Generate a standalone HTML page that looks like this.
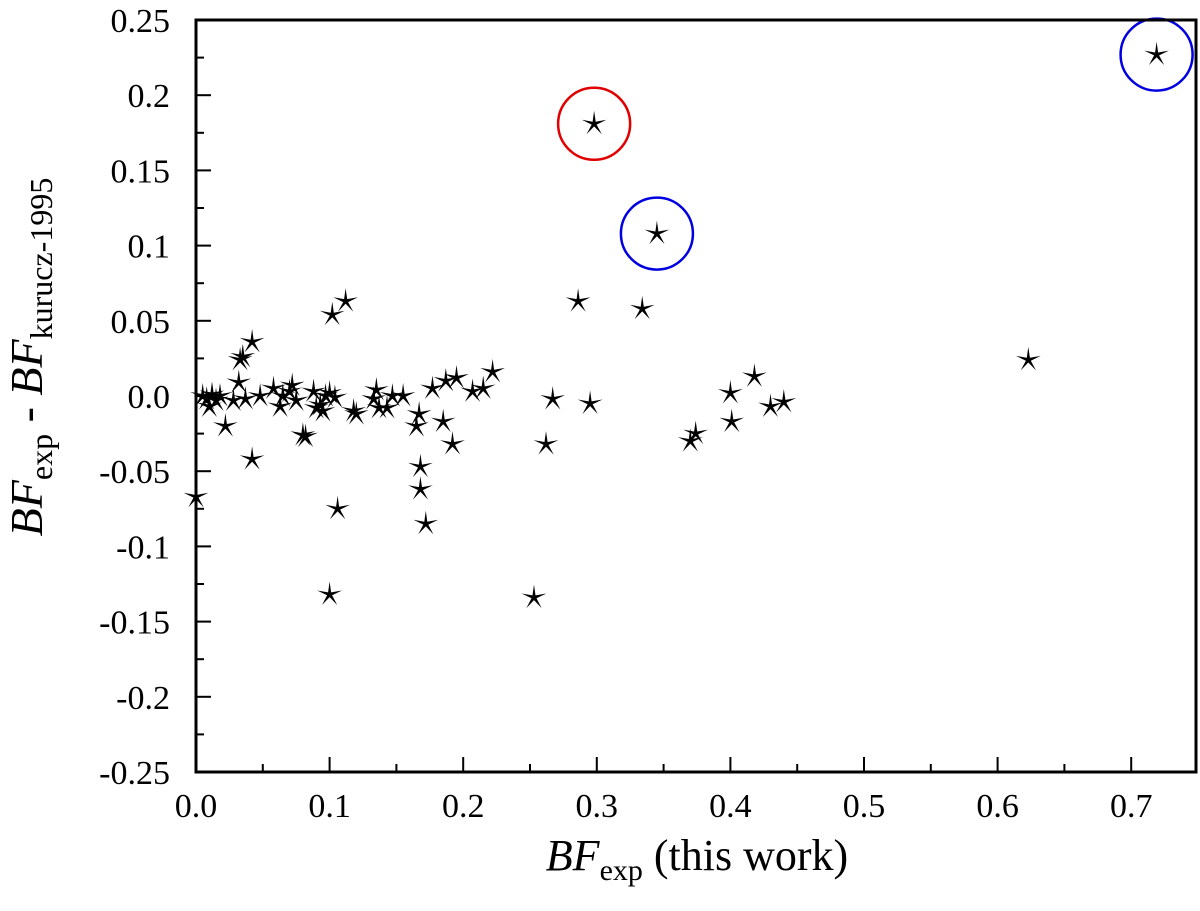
<!DOCTYPE html>
<html><head><meta charset="utf-8"><style>
body{margin:0;background:#fff}
svg{display:block;font-family:"Liberation Serif",serif}
</style></head><body>
<svg width="1200" height="911" viewBox="0 0 1200 911">
<g id="ticks"></g>
<g id="marks"></g>
<rect x="196" y="20" width="1000" height="752" fill="none" stroke="#000" stroke-width="3"/>
<text x="42" y="357" transform="rotate(-90 42 357)" text-anchor="middle" font-size="46"><tspan font-style="italic">BF</tspan><tspan font-size="32" dy="10">exp</tspan><tspan dy="-10"> - </tspan><tspan font-style="italic">BF</tspan><tspan font-size="32" dy="10">kurucz-1995</tspan></text>
<text x="697" y="870" text-anchor="middle" font-size="44"><tspan font-style="italic">BF</tspan><tspan font-size="30" dy="10">exp</tspan><tspan dy="-10"> (this work)</tspan></text>
</svg>
<script>
const xTicks=[0,0.1,0.2,0.3,0.4,0.5,0.6,0.7];
const xTickLabels=["0.0","0.1","0.2","0.3","0.4","0.5","0.6","0.7"];
const yTicks=[0.25,0.2,0.15,0.1,0.05,0,-0.05,-0.1,-0.15,-0.2,-0.25];
const yTickLabels=["0.25","0.2","0.15","0.1","0.05","0.0","-0.05","-0.1","-0.15","-0.2","-0.25"];
const xVals=[0.0,0.005,0.008,0.01,0.012,0.015,0.018,0.022,0.028,0.032,0.033,0.035,0.037,0.042,0.042,0.048,0.058,0.063,0.065,0.07,0.072,0.075,0.08,0.082,0.088,0.09,0.093,0.095,0.097,0.1,0.1,0.102,0.104,0.106,0.112,0.118,0.12,0.133,0.135,0.137,0.143,0.147,0.155,0.165,0.167,0.168,0.168,0.172,0.177,0.185,0.187,0.192,0.195,0.207,0.215,0.222,0.253,0.262,0.267,0.286,0.295,0.298,0.334,0.345,0.37,0.374,0.4,0.401,0.418,0.43,0.44,0.623,0.719];
const yVals=[-0.067,0.0,-0.002,-0.007,0.001,-0.003,0.0,-0.02,-0.003,0.009,0.024,0.026,-0.002,0.036,-0.042,0.0,0.005,-0.007,0.0,0.003,0.007,-0.003,-0.026,-0.027,0.003,-0.008,-0.006,-0.01,0.0,0.002,-0.132,0.054,-0.001,-0.075,0.063,-0.01,-0.012,-0.002,0.004,-0.008,-0.008,0.0,0.0,-0.02,-0.012,-0.047,-0.062,-0.085,0.005,-0.017,0.01,-0.032,0.012,0.003,0.005,0.016,-0.134,-0.032,-0.002,0.063,-0.005,0.181,0.058,0.108,-0.03,-0.025,0.002,-0.017,0.013,-0.007,-0.004,0.024,0.227];
const circX=[0.298,0.345,0.719];
const circY=[0.181,0.108,0.227];
const circColors=["#e00000","#0000e0","#0000e0"];
const NS="http://www.w3.org/2000/svg";
const X=v=>196+v*1336, Y=v=>396-v*1504;
const tg=document.getElementById('ticks'), mg=document.getElementById('marks');
function mk(tag,a,p){const e=document.createElementNS(NS,tag);for(const k in a)e.setAttribute(k,a[k]);p.appendChild(e);return e;}
xTicks.forEach((v,i)=>{
 const x=X(v);
 const t=mk('line',{x1:x,x2:x,y1:772,y2:757,stroke:'#000','stroke-width':2},tg);
 
 
 const m=X(v+0.05);
 if(m<1196){mk('line',{x1:m,x2:m,y1:772,y2:764,stroke:'#000','stroke-width':2},tg);}
 const l=mk('text',{x:x,y:817,'text-anchor':'middle','font-size':34},tg);
 l.textContent=xTickLabels[i];
 
 
});
yTicks.forEach((v,i)=>{
 const y=Y(v);
 mk('line',{x1:196,x2:211,y1:y,y2:y,stroke:'#000','stroke-width':2},tg);
 if(v>-0.25){const m=Y(v-0.025);mk('line',{x1:196,x2:204,y1:m,y2:m,stroke:'#000','stroke-width':2},tg);}
 const l=mk('text',{x:170,y:y+12,'text-anchor':'end','font-size':34},tg);
 l.textContent=yTickLabels[i];
 
 
});
function starPath(cx,cy){let d='';for(let k=0;k<10;k++){const r=k%2?2.6:13;const a=-Math.PI/2+k*Math.PI/5;d+=(k?'L':'M')+(cx+r*Math.cos(a)).toFixed(1)+','+(cy+r*Math.sin(a)).toFixed(1);}return d+'Z';}
xVals.forEach((v,i)=>{
 const p=mk('path',{d:starPath(X(v),Y(yVals[i])),fill:'#000'},mg);
 
 
});
circX.forEach((v,i)=>{
 const c=mk('circle',{cx:X(v),cy:Y(circY[i]),r:36,fill:'none',stroke:circColors[i],'stroke-width':2.5},mg);
 
 
});
</script>
</body></html>
